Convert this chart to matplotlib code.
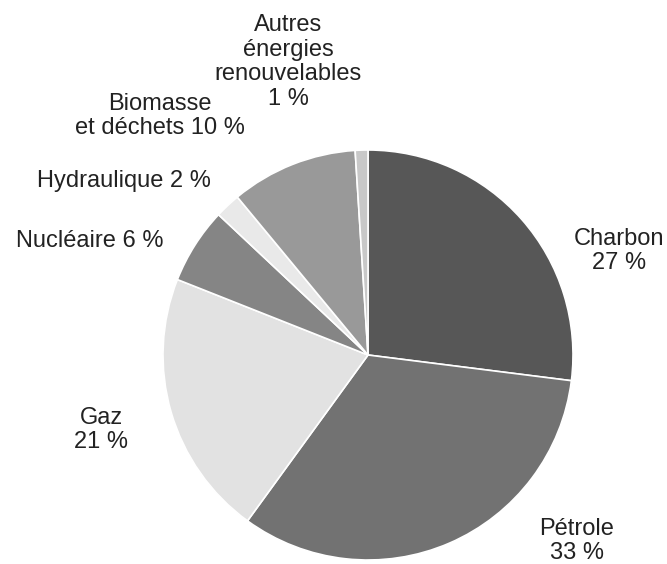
import matplotlib.pyplot as plt

# parts de la consommation d'énergie (%)
sources = ['Charbon', 'Pétrole', 'Gaz', 'Nucléaire', 'Hydraulique',
           'Biomasse et déchets', 'Autres énergies renouvelables']
parts = [27, 33, 21, 6, 2, 10, 1]
couleurs = ['#575757', '#727272', '#e2e2e2', '#858585', '#e9e9e9', '#999999', '#c8c8c8']

etiquettes = ['Charbon\n27 %', 'Pétrole\n33 %', 'Gaz\n21 %', 'Nucléaire 6 %',
              'Hydraulique 2 %', 'Biomasse\net déchets 10 %',
              'Autres\nénergies\nrenouvelables\n1 %']
# position des étiquettes (pixels, origine en haut à gauche)
pos = [(619, 251), (577, 541), (101, 430), (90, 241),
       (124, 181), (160, 116), (288, 62)]

plt.rcParams['font.family'] = ['Liberation Sans', 'DejaVu Sans']

fig = plt.figure(figsize=(6.67, 5.64), dpi=100)
ax = fig.add_axes([0, 0, 1, 1])

ax.pie(parts, colors=couleurs, startangle=90, counterclock=False,
       center=(368, 564 - 355), radius=205,
       wedgeprops=dict(edgecolor='white', linewidth=1.2))

for txt, (x, y) in zip(etiquettes, pos):
    ax.text(x, 564 - y, txt, ha='center', va='center', fontsize=17,
            color='#222222', linespacing=1.15)

ax.set_xlim(0, 667)
ax.set_ylim(0, 564)
ax.set_aspect('equal')
ax.axis('off')

fig.savefig('out.png', dpi=100)
